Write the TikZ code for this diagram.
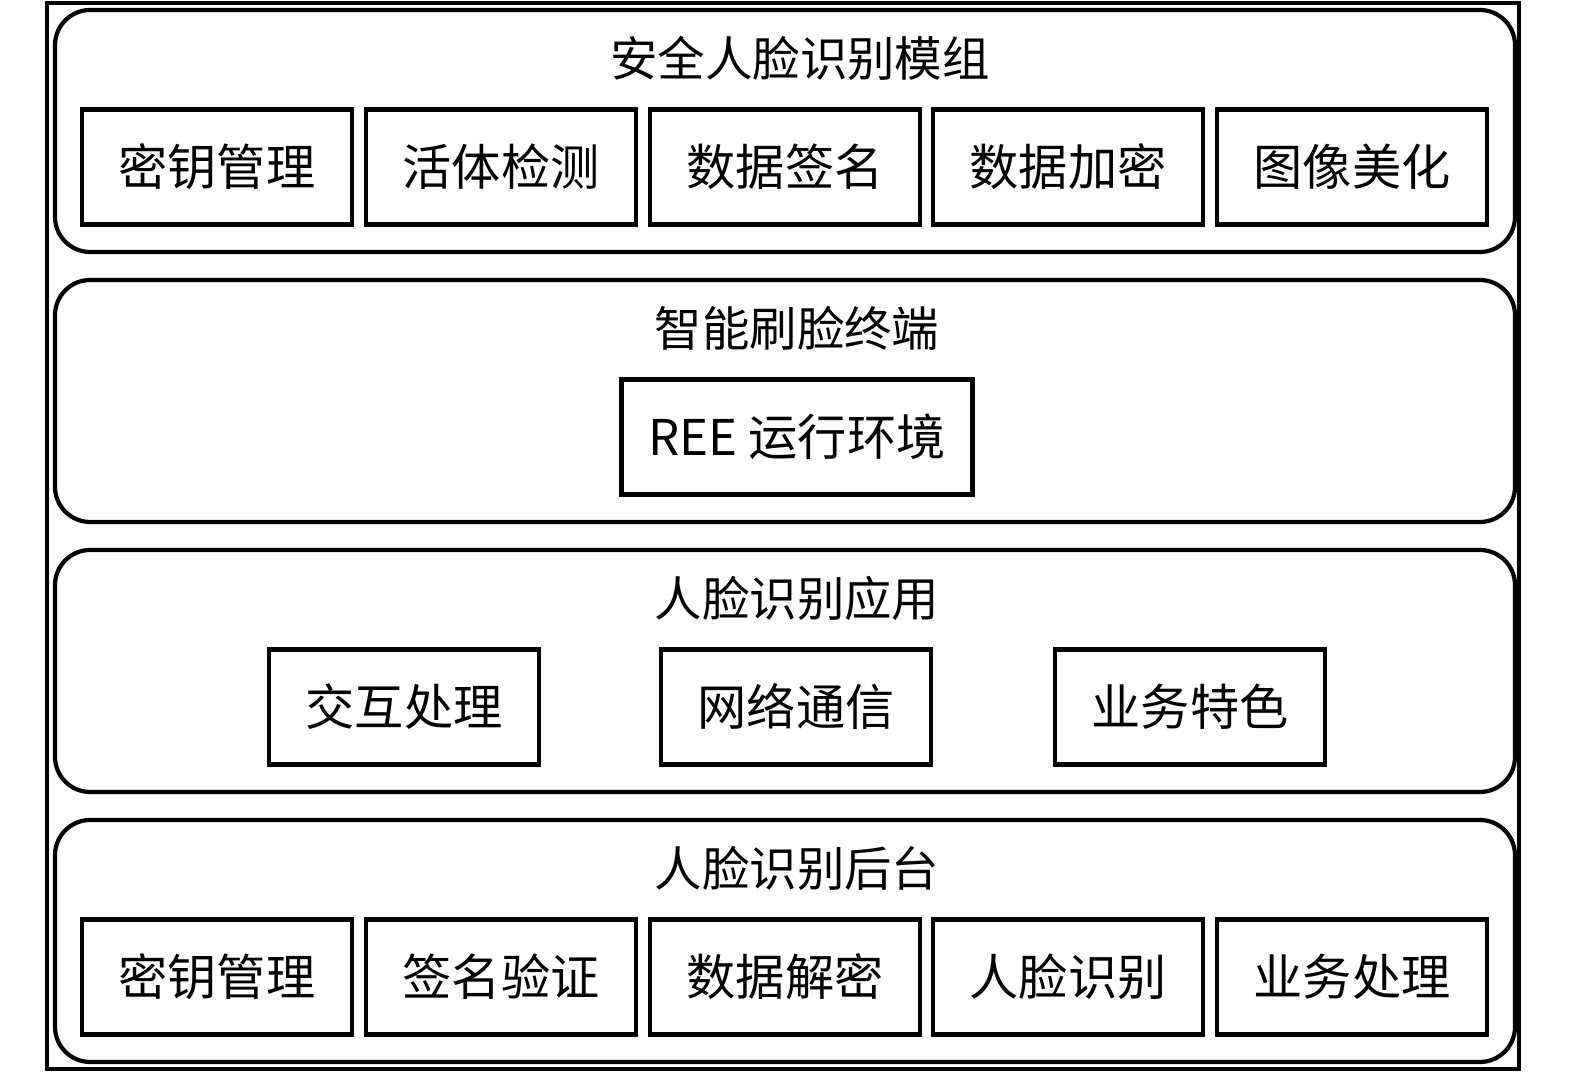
\documentclass[tikz,border=0pt]{standalone}
\usepackage{fontspec}
\setmainfont{Liberation Serif}
\newfontfamily\cjk{Noto Sans CJK SC}
\usepackage{tikz}

\begin{document}
\begin{tikzpicture}[x=0.01cm, y=-0.01cm,
		layer/.style={draw, line width=1.2pt, rounded corners=10pt},
		item/.style={draw, line width=1.2pt, minimum width=2.7cm, minimum height=1.15cm, font=\cjk\fontsize{14}{16}\selectfont},
		title/.style={font=\cjk\fontsize{13.5}{16}\selectfont}]
				\useasboundingbox (0,0) rectangle (1575,1077);
				\draw[line width=1.2pt] (47,3) rectangle (1519,1069);
				\foreach \y in {10,280,550,820} {
					\draw[layer] (55,\y) rectangle (1515,\y+242);
				}
				% titles
				\node[title] (t1) at (800,58) {安全人脸识别模组};
				\node[title] (t2) at (797,328) {智能刷脸终端};
				\node[title] (t3) at (797,598) {人脸识别应用};
				\node[title] (t4) at (797,868) {人脸识别后台};
				% top row
				\foreach \n/\x/\t in {a/217/密钥管理, b/501/活体检测, c/785/数据签名, d/1068/数据加密, e/1352/图像美化} {
					\node[item] (top\n) at (\x,167) {\t};
				}
				\node[item, minimum width=3.51cm] (ree) at (797,437) {\fontsize{14}{16}\selectfont REE {\cjk 运行环境}};
				\foreach \n/\x/\t in {a/404/交互处理, b/796/网络通信, c/1190/业务特色} {
					\node[item] (mid\n) at (\x,707) {\t};
				}
				\foreach \n/\x/\t in {a/217/密钥管理, b/501/签名验证, c/785/数据解密, d/1068/人脸识别, e/1352/业务处理} {
					\node[item] (bot\n) at (\x,977) {\t};
				}
			\end{tikzpicture}
\end{document}
